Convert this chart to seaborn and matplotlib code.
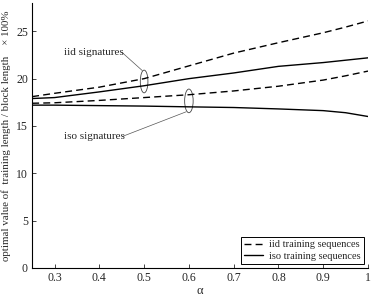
import pandas as pd
import matplotlib.pyplot as plt
import seaborn as sns
from matplotlib.patches import Ellipse

# --- data ---
alpha = [0.25, 0.3, 0.4, 0.5, 0.6, 0.7, 0.8, 0.9, 0.95, 1.0]
iid_sig_iid_train = [18.1, 18.45, 19.1, 20.0, 21.35, 22.7, 23.8, 24.85, 25.45, 26.1]
iid_sig_iso_train = [17.9, 18.0, 18.6, 19.25, 20.0, 20.6, 21.3, 21.7, 21.95, 22.2]
iso_sig_iid_train = [17.4, 17.45, 17.7, 18.0, 18.3, 18.7, 19.2, 19.85, 20.3, 20.8]
iso_sig_iso_train = [17.2, 17.2, 17.15, 17.1, 17.02, 16.95, 16.8, 16.62, 16.4, 16.0]

xticks = [0.3, 0.4, 0.5, 0.6, 0.7, 0.8, 0.9, 1.0]
xticklabels = ['0.3', '0.4', '0.5', '0.6', '0.7', '0.8', '0.9', '1']
yticks = [0, 5, 10, 15, 20, 25]

sns.set_theme(style='ticks')
plt.rcParams['font.family'] = ['Liberation Serif', 'DejaVu Serif']

fig = plt.figure(figsize=(3.74, 2.96), dpi=100)
ax = fig.add_axes([0.086, 0.095, 0.898, 0.895])

dash = (5, 3)
sns.lineplot(x=alpha, y=iid_sig_iid_train, ax=ax, color='black', lw=1.0,
             label='iid training sequences').lines[-1].set_dashes(dash)
sns.lineplot(x=alpha, y=iid_sig_iso_train, ax=ax, color='black', lw=1.0,
             label='iso training sequences')
l3 = sns.lineplot(x=alpha, y=iso_sig_iid_train, ax=ax, color='black', lw=1.0).lines[-1]
l3.set_dashes(dash)
sns.lineplot(x=alpha, y=iso_sig_iso_train, ax=ax, color='black', lw=1.0)

ax.set_xlim(0.25, 1.0)
ax.set_ylim(0, 28)
ax.set_xticks(xticks)
ax.set_xticklabels(xticklabels)
ax.set_yticks(yticks)
ax.tick_params(direction='in', length=3, width=0.6, labelsize=8.5, pad=3)
sns.despine(ax=ax)
for s in ['left', 'bottom']:
    ax.spines[s].set_linewidth(0.8)
    ax.spines[s].set_color('black')

ax.set_xlabel('α', fontsize=9, labelpad=1)
ax.set_ylabel('optimal value of  training length / block length    × 100%',
              fontsize=7.8, labelpad=4)

# --- annotations: ellipses and pointer lines ---
ax.add_patch(Ellipse((0.5, 19.7), 0.017, 2.4, fill=False, lw=0.6, color='#444444'))
ax.add_patch(Ellipse((0.6, 17.65), 0.019, 2.5, fill=False, lw=0.6, color='#444444'))
ax.plot([0.45, 0.496], [22.8, 20.85], color='#555555', lw=0.5)
ax.plot([0.452, 0.594], [13.9, 16.5], color='#555555', lw=0.5)
ax.text(0.322, 22.8, 'iid signatures', fontsize=8, va='center', ha='left')
ax.text(0.322, 13.9, 'iso signatures', fontsize=8, va='center', ha='left')

leg = ax.legend(loc='lower right', fontsize=7.5, handlelength=1.8, handletextpad=0.6,
                borderpad=0.3, labelspacing=0.2, borderaxespad=0.4, fancybox=False,
                framealpha=1, edgecolor='black')
leg.get_frame().set_linewidth(0.7)

fig.savefig('out.png', dpi=100)
